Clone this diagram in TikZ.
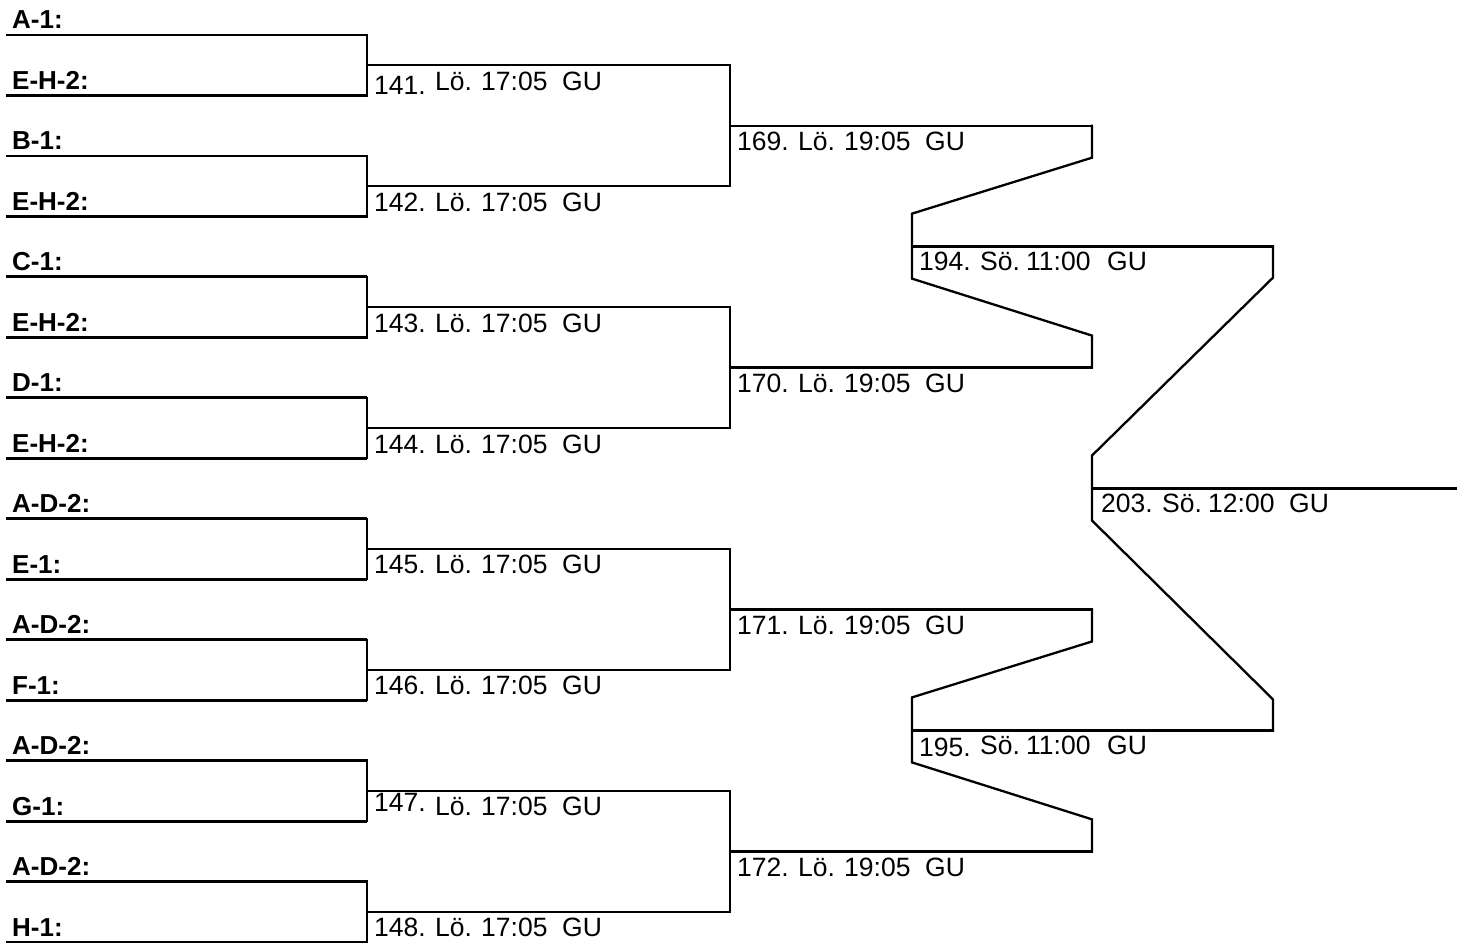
\documentclass[tikz,border=0pt]{standalone}
\usepackage{fontspec}
\setmainfont{Liberation Sans}
\usetikzlibrary{calc}
\newcommand{\game}[4]{\raisebox{#4pt}{\makebox[61pt][l]{#1.}}\makebox[46pt][l]{#2.}\makebox[81pt][l]{#3}GU}

\begin{document}
\begin{tikzpicture}[x=1pt,y=-1pt,
  teamline/.style={line width=2.8pt},
  bracket/.style={line width=2.3pt,line cap=rect,line join=miter},
  teamlabel/.style={anchor=base west,inner sep=0pt,font=\fontsize{26}{30}\selectfont\bfseries},
  gamelabel/.style={anchor=base west,inner sep=0pt,font=\fontsize{26.5}{30}\selectfont}]
  \useasboundingbox (0,0) rectangle (1465,944);
  % teams
  \foreach \name [count=\i from 0] in {A-1,E-H-2,B-1,E-H-2,C-1,E-H-2,D-1,E-H-2,A-D-2,E-1,A-D-2,F-1,A-D-2,G-1,A-D-2,H-1}{
    \coordinate (tail\i) at (6,{35+60.47*\i});
    \coordinate (team\i) at (367,{35+60.47*\i});
    \draw[teamline] (tail\i) -- (team\i);
    \node[teamlabel] (lab\i) at ($(tail\i)+(6,-6)$) {\name:};
  }
  % round 1
  \foreach \num/\dy [count=\k from 0] in {141/-4,142/0,143/0,144/0,145/0,146/0,147/4,148/0}{
    \pgfmathtruncatemacro\a{2*\k}\pgfmathtruncatemacro\b{2*\k+1}
    \coordinate (m\k) at ($(team\a)!0.5!(team\b)$);
    \coordinate (w\k) at ($(m\k)+(363,0)$);
    \draw[bracket] (team\a) -- (team\b) (m\k) -- (w\k);
    \node[gamelabel] (g\num) at ($(m\k)+(7,25)$) {\game{\num}{Lö}{17:05}{\dy}};
  }
  % round 2
  \foreach \num [count=\j from 0] in {169,170,171,172}{
    \pgfmathtruncatemacro\a{2*\j}\pgfmathtruncatemacro\b{2*\j+1}
    \coordinate (q\j) at ($(w\a)!0.5!(w\b)$);
    \coordinate (qe\j) at ($(q\j)+(362,0)$);
    \draw[bracket] (w\a) -- (w\b) (q\j) -- (qe\j);
    \node[gamelabel] (g\num) at ($(q\j)+(7,25)$) {\game{\num}{Lö}{19:05}{0}};
  }
  % semifinals
  \foreach \num/\dy [count=\h from 0] in {194/0,195/-2}{
    \pgfmathtruncatemacro\a{2*\h}\pgfmathtruncatemacro\b{2*\h+1}
    \coordinate (s\h) at ($(qe\a)!0.5!(qe\b)+(-180,0)$);
    \coordinate (se\h) at ($(s\h)+(361,0)$);
    \draw[bracket] (qe\a) -- ++(0,32) -- ($(s\h)+(0,-33)$) -- ($(s\h)+(0,32)$) -- ($(qe\b)+(0,-32)$) -- (qe\b);
    \draw[bracket] (s\h) -- (se\h);
    \node[gamelabel] (g\num) at ($(s\h)+(7,24)$) {\game{\num}{Sö}{11:00}{\dy}};
  }
  % final
  \coordinate (f) at ($(se0)!0.5!(se1)+(-181,0)$);
  \coordinate (fe) at ($(f)+(364,0)$);
  \draw[bracket] (se0) -- ++(0,31) -- ($(f)+(0,-33)$) -- ($(f)+(0,32)$) -- ($(se1)+(0,-31)$) -- (se1);
  \draw[bracket] (f) -- (fe);
  \node[gamelabel] (g203) at ($(f)+(9,24)$) {\game{203}{Sö}{12:00}{0}};
\end{tikzpicture}
\end{document}
